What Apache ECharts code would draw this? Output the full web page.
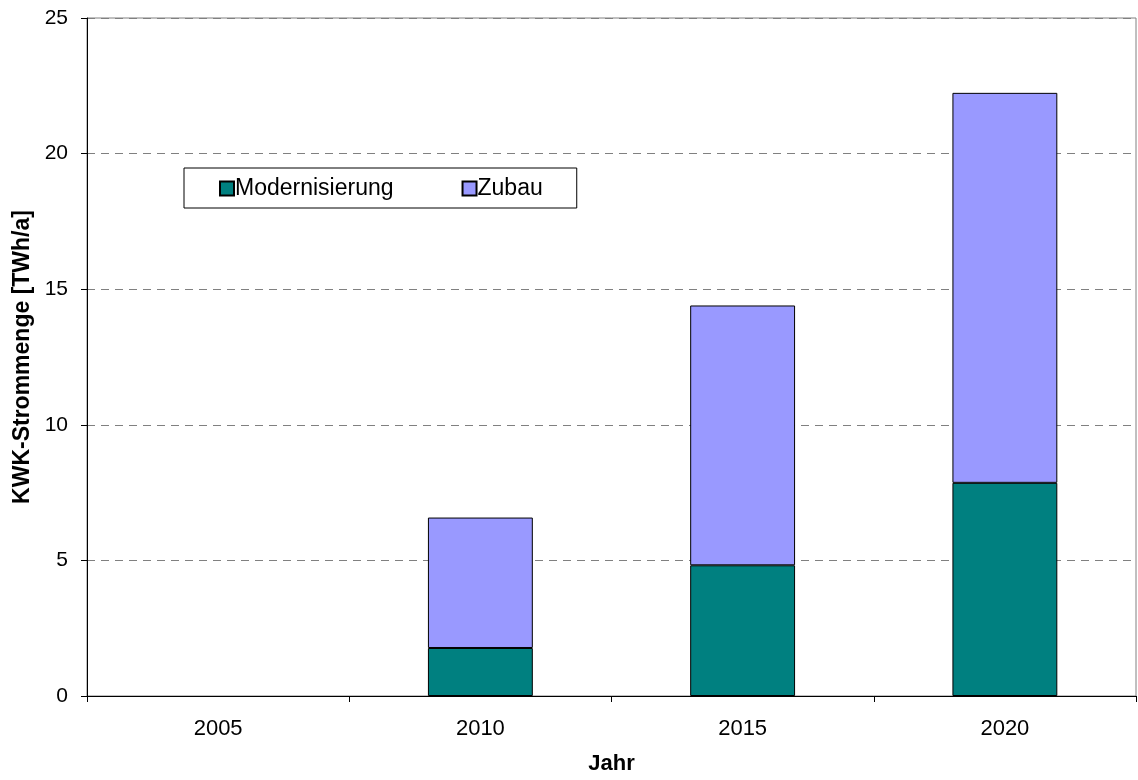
<!DOCTYPE html>
<html><head><meta charset="utf-8">
<script src="https://cdn.jsdelivr.net/npm/echarts@6/dist/echarts.min.js"></script>
<style>html,body{margin:0;padding:0;background:#fff}#c{width:1138px;height:780px}</style>
</head><body><div id="c"></div>
<script>
const years = ['2005','2010','2015','2020'];
const modernisierung = [0, 1.77, 4.82, 7.86];
const zubau = [0, 4.81, 9.58, 14.38];
const yTicks = [0, 5, 10, 15, 20, 25];

// zero-height stacks are not drawn in the reference
const hideZero = arr => arr.map(v => (v === 0 ? '-' : v));

const chart = echarts.init(document.getElementById('c'));
const font = 'Liberation Sans, Arial, sans-serif';
chart.setOption({
  animation: false,
  backgroundColor: '#fff',
  textStyle: {fontFamily: font},
  grid: {left: 87, right: 2, top: 18, bottom: 79, show: true, borderColor: '#808080', borderWidth: 1, backgroundColor: 'transparent'},
  legend: {
    left: 184, top: 168,
    padding: [9, 34, 8, 35],
    itemGap: 68,
    itemWidth: 14, itemHeight: 14,
    icon: 'rect',
    backgroundColor: '#fff',
    borderColor: '#000', borderWidth: 1,
    textStyle: {fontSize: 23, color: '#000', fontFamily: font, padding: [0,0,0,-4]},
    data: ['Modernisierung', 'Zubau']
  },
  xAxis: {
    type: 'category', data: years,
    axisLine: {lineStyle: {color: '#000', width: 1}},
    axisTick: {show: true, alignWithLabel: false, length: 6, lineStyle: {color: '#000'}},
    axisLabel: {fontSize: 22, color: '#000', margin: 22, fontFamily: font},
    name: 'Jahr', nameLocation: 'middle', nameGap: 57,
    nameTextStyle: {fontSize: 22, fontWeight: 'bold', color: '#000', fontFamily: font}
  },
  yAxis: {
    type: 'value', min: yTicks[0], max: yTicks[yTicks.length-1], interval: 5,
    axisLine: {show: true, lineStyle: {color: '#000', width: 1}},
    axisTick: {show: true, length: 6, lineStyle: {color: '#000'}},
    axisLabel: {fontSize: 21, color: '#000', margin: 19, fontFamily: font},
    splitLine: {show: true, lineStyle: {color: '#808080', type: [8, 6], width: 1}},
    name: 'KWK-Strommenge [TWh/a]', nameLocation: 'middle', nameGap: 50,
    nameTextStyle: {fontSize: 23, fontWeight: 'bold', color: '#000', fontFamily: font}
  },
  series: [
    {name: 'Modernisierung', type: 'bar', stack: 'a', data: hideZero(modernisierung), barWidth: '40%',
     itemStyle: {color: '#008080', borderColor: '#000', borderWidth: 1}},
    {name: 'Zubau', type: 'bar', stack: 'a', data: hideZero(zubau), barWidth: '40%',
     itemStyle: {color: '#9999ff', borderColor: '#000', borderWidth: 1}}
  ]
});
</script></body></html>
